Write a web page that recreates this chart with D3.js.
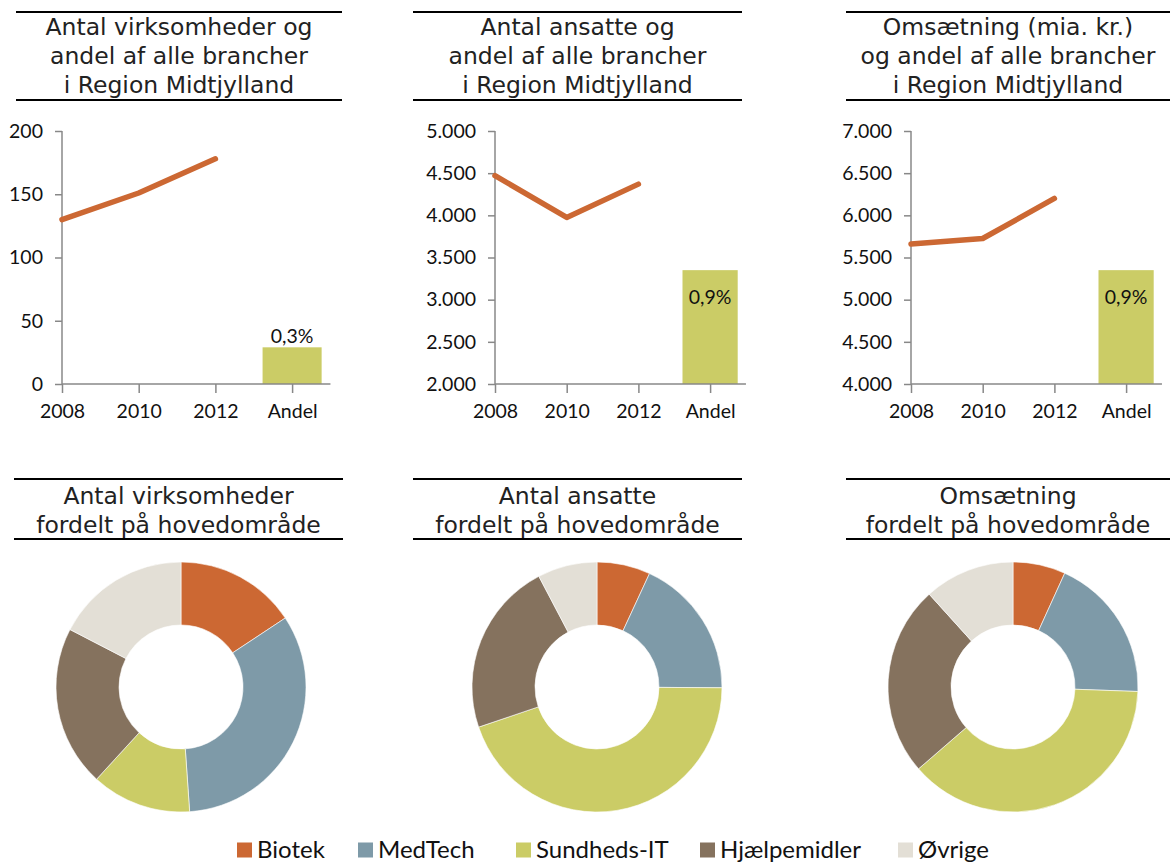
<!DOCTYPE html>
<html>
<head>
<meta charset="utf-8">
<script src="https://cdn.jsdelivr.net/npm/d3@7"></script>
<style>
  html, body { margin: 0; padding: 0; background: #fff; }
  svg { display: block; }
</style>
</head>
<body>
<svg id="chart" width="1170" height="866"></svg>
<script>
// ---------- DATA ----------
const years = ["2008", "2010", "2012"];
const andelCategory = "Andel";
const xCategories = ["2008", "2010", "2012", "Andel"];

const virksomhederValues = [130, 151, 178];
const virksomhederAndel = 29;
const virksomhederAndelLabel = "0,3%";
const virksomhederDomain = [0, 200];
const virksomhederTicks = [0, 50, 100, 150, 200];

const ansatteValues = [4470, 3975, 4370];
const ansatteAndel = 3350;
const ansatteAndelLabel = "0,9%";
const ansatteDomain = [2000, 5000];
const ansatteTicks = [2000, 2500, 3000, 3500, 4000, 4500, 5000];

const omsaetningValues = [5660, 5725, 6200];
const omsaetningAndel = 5350;
const omsaetningAndelLabel = "0,9%";
const omsaetningDomain = [4000, 7000];
const omsaetningTicks = [4000, 4500, 5000, 5500, 6000, 6500, 7000];

const topTitles = [
  ["Antal virksomheder og", "andel af alle brancher", "i Region Midtjylland"],
  ["Antal ansatte og", "andel af alle brancher", "i Region Midtjylland"],
  ["Omsætning (mia. kr.)", "og andel af alle brancher", "i Region Midtjylland"]
];
const bottomTitles = [
  ["Antal virksomheder", "fordelt på hovedområde"],
  ["Antal ansatte", "fordelt på hovedområde"],
  ["Omsætning", "fordelt på hovedområde"]
];

const areas = ["Biotek", "MedTech", "Sundheds-IT", "Hjælpemidler", "Øvrige"];
const donutVirksomheder = [15.7, 33.2, 12.9, 20.8, 17.4];
const donutAnsatte = [6.9, 18.2, 44.7, 22.5, 7.7];
const donutOmsaetning = [6.8, 18.8, 38.1, 24.7, 11.7];

// ---------- STYLE / LAYOUT ----------
const areaColors = ["#CC6833", "#7E9AA8", "#CBCC66", "#85725E", "#E3DFD6"];
const lineColor = "#CC6833";
const barColor = "#CBCC66";
const axisColor = "#888888";
const titleFont = "'DejaVu Sans', Verdana, sans-serif";
const tickFont = "Lato, 'Open Sans', sans-serif";
const tickSize = 19.5;

const locale = d3.formatLocale({ decimal: ",", thousands: ".", grouping: [3], currency: ["", " kr."] });
const fmt = locale.format(",");

const svg = d3.select("#chart");

const lineCharts = [
  { values: virksomhederValues, andel: virksomhederAndel, label: virksomhederAndelLabel, domain: virksomhederDomain, ticks: virksomhederTicks,
    x0: 62, step: 76.7, labelInside: false, titleRule: [16, 342] },
  { values: ansatteValues, andel: ansatteAndel, label: ansatteAndelLabel, domain: ansatteDomain, ticks: ansatteTicks,
    x0: 495, step: 71.7, labelInside: true, titleRule: [413, 742] },
  { values: omsaetningValues, andel: omsaetningAndel, label: omsaetningAndelLabel, domain: omsaetningDomain, ticks: omsaetningTicks,
    x0: 911, step: 71.7, labelInside: true, titleRule: [846, 1170] }
];
const plotTop = 131, plotBottom = 384;

function drawTitle(lines, rule, yTop, yBottom, firstBaseline) {
  const g = svg.append("g");
  g.append("line").attr("x1", rule[0]).attr("x2", rule[1]).attr("y1", yTop).attr("y2", yTop)
    .attr("stroke", "#000").attr("stroke-width", 2);
  g.append("line").attr("x1", rule[0]).attr("x2", rule[1]).attr("y1", yBottom).attr("y2", yBottom)
    .attr("stroke", "#000").attr("stroke-width", 2);
  const cx = (rule[0] + rule[1]) / 2;
  lines.forEach((t, i) => {
    g.append("text").attr("x", cx).attr("y", firstBaseline + i * 29)
      .attr("text-anchor", "middle").attr("font-family", titleFont).attr("font-size", 23.5)
      .attr("fill", "#222").text(t);
  });
}

lineCharts.forEach((c, ci) => {
  drawTitle(topTitles[ci], c.titleRule, 12, 100, 35);

  const x = d3.scalePoint().domain(xCategories).range([c.x0, c.x0 + 3 * c.step]);
  const y = d3.scaleLinear().domain(c.domain).range([plotBottom, plotTop]);
  const axisEnd = c.x0 + 3.5 * c.step;
  const g = svg.append("g");

  // bar
  const bw = c.step * 0.77;
  g.append("rect")
    .attr("x", x(andelCategory) - bw / 2).attr("width", bw)
    .attr("y", y(c.andel)).attr("height", plotBottom - y(c.andel))
    .attr("fill", barColor);
  g.append("text")
    .attr("x", x(andelCategory)).attr("y", c.labelInside ? y(c.andel) + 34 : y(c.andel) - 4)
    .attr("text-anchor", "middle").attr("font-family", tickFont).attr("font-size", tickSize)
    .attr("fill", "#111").text(c.label);

  // y axis
  const ya = d3.axisLeft(y).tickValues(c.ticks).tickFormat(fmt).tickSize(7).tickPadding(12);
  const yg = g.append("g").attr("transform", `translate(${c.x0},0)`).call(ya);
  yg.select(".domain").attr("stroke", axisColor).attr("stroke-width", 1.5).attr("d", `M0,${plotTop}V${plotBottom}`);
  yg.selectAll(".tick line").attr("stroke", axisColor).attr("stroke-width", 1.5);
  yg.selectAll(".tick text").attr("font-family", tickFont).attr("font-size", tickSize).attr("fill", "#111");

  // x axis
  const xa = d3.axisBottom(x).tickSize(9).tickPadding(11);
  const xg = g.append("g").attr("transform", `translate(0,${plotBottom})`).call(xa);
  xg.select(".domain").attr("stroke", axisColor).attr("stroke-width", 1.5).attr("d", `M${c.x0},0H${axisEnd}`);
  xg.selectAll(".tick line").attr("stroke", axisColor).attr("stroke-width", 1.5);
  xg.selectAll(".tick text").attr("font-family", tickFont).attr("font-size", tickSize).attr("fill", "#111");

  // line
  const line = d3.line().x((d, i) => x(years[i])).y(d => y(d));
  g.append("path").datum(c.values).attr("d", line)
    .attr("fill", "none").attr("stroke", lineColor).attr("stroke-width", 5.5)
    .attr("stroke-linecap", "round").attr("stroke-linejoin", "round");
});

// ---------- DONUTS ----------
const donuts = [
  { values: donutVirksomheder, cx: 181, titleRule: [14, 343] },
  { values: donutAnsatte, cx: 597, titleRule: [413, 742] },
  { values: donutOmsaetning, cx: 1013, titleRule: [846, 1170] }
];
const donutCy = 687, outerR = 125, innerR = 62;
const color = d3.scaleOrdinal().domain(areas).range(areaColors);
const pie = d3.pie().sort(null).value(d => d.v);
const arc = d3.arc().innerRadius(innerR).outerRadius(outerR);

donuts.forEach((d, di) => {
  drawTitle(bottomTitles[di], d.titleRule, 479, 539, 504);
  const data = areas.map((a, i) => ({ a, v: d.values[i] }));
  const g = svg.append("g").attr("transform", `translate(${d.cx},${donutCy})`);
  g.selectAll("path").data(pie(data)).join("path")
    .attr("d", arc).attr("fill", p => color(p.data.a))
    .attr("stroke", "#fff").attr("stroke-width", 0.6);
});

// ---------- LEGEND ----------
const legendX = [237, 358, 516, 700, 898];
const legend = svg.append("g").attr("transform", "translate(0,850)");
areas.forEach((a, i) => {
  const it = legend.append("g").attr("transform", `translate(${legendX[i]},0)`);
  it.append("rect").attr("x", 0).attr("y", -7.5).attr("width", 15).attr("height", 15).attr("fill", color(a));
  it.append("text").attr("x", 20).attr("y", 0).attr("dy", "0.35em")
    .attr("font-family", tickFont).attr("font-size", 24).attr("fill", "#111").text(a);
});
</script>
</body>
</html>
